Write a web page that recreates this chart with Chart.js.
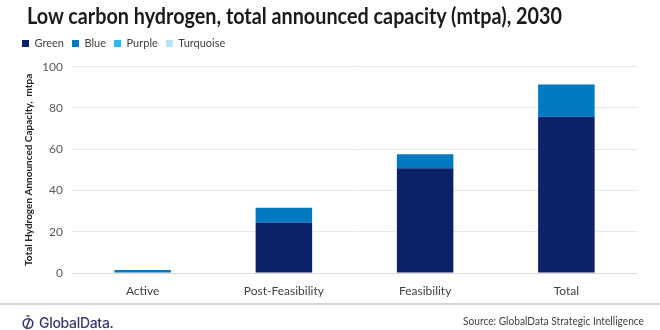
<!DOCTYPE html>
<html>
<head>
<meta charset="utf-8">
<script src="https://cdn.jsdelivr.net/npm/chart.js@4.4.1/dist/chart.umd.min.js"></script>
<style>
  html, body { margin: 0; padding: 0; background: #ffffff; }
  #wrap { position: relative; width: 660px; height: 330px; overflow: hidden; font-family: Lato, "Open Sans", sans-serif; }
  #c { position: absolute; left: 0; top: 0; }
  #title { position: absolute; left: 27px; top: 2px; font-size: 22px; font-weight: bold; color: #1b1b1b; white-space: nowrap; transform-origin: 0 0; }
  #sep { position: absolute; left: 0; top: 303px; width: 660px; height: 2px; background: #d4d4d4; }
  #logo { position: absolute; left: 22px; top: 312px; height: 20px; display: flex; align-items: center; color: #3a3870; }
  #logo span { font-family: Inter, Lato, sans-serif; font-weight: 500; font-size: 14px; margin-left: 5px; letter-spacing: -0.3px; }
  #source { position: absolute; left: 463px; top: 314px; font-size: 11.5px; color: #3f3f3f; white-space: nowrap; transform-origin: 0 0; }
</style>
</head>
<body>
<div id="wrap">
  <canvas id="c" width="660" height="330"></canvas>
  <div id="title">Low carbon hydrogen, total announced capacity (mtpa), 2030</div>
  <div id="sep"></div>
  <div id="logo">
    <svg width="12" height="15" viewBox="0 0 12 15">
      <circle cx="6" cy="8.5" r="4.8" fill="none" stroke="#3a3870" stroke-width="1.6"/>
      <line x1="4" y1="13.5" x2="8" y2="3.5" stroke="#3a3870" stroke-width="1.6"/>
      <line x1="4.5" y1="1" x2="7.5" y2="1" stroke="#3a3870" stroke-width="1.4"/>
    </svg>
    <span>GlobalData.</span>
  </div>
  <div id="source">Source: GlobalData Strategic Intelligence</div>
</div>
<script>
// ---- Data ----
const categories = ['Active', 'Post-Feasibility', 'Feasibility', 'Total'];
const seriesNames = ['Green', 'Blue', 'Purple', 'Turquoise'];
const greenValues = [0, 24.4, 50.8, 75.7];
const blueValues = [1.4, 7.2, 6.8, 15.7];
const purpleValues = [0, 0, 0, 0];
const turquoiseValues = [0, 0, 0, 0];
const yMin = 0;
const yMax = 100;
const yStep = 20;
const yAxisTitle = 'Total Hydrogen Announced Capacity,  mtpa';

const colors = ['#0b2169', '#0079c1', '#2cb8f4', '#b5e3fa'];
const valueSets = [greenValues, blueValues, purpleValues, turquoiseValues];

function fitWidth(id, target) {
  const el = document.getElementById(id);
  const w = el.getBoundingClientRect().width;
  if (w > 0) el.style.transform = 'scaleX(' + (target / w) + ')';
}
fitWidth('title', 535);
fitWidth('source', 181);

const legendHeightPlugin = {
  id: 'legendHeight',
  beforeInit(chart) {
    const origFit = chart.legend.fit;
    chart.legend.fit = function () {
      origFit.bind(chart.legend)();
      this.height = 36.7;
    };
  }
};

const fontFamily = 'Lato, "Open Sans", sans-serif';

new Chart(document.getElementById('c'), {
  type: 'bar',
  data: {
    labels: categories,
    datasets: seriesNames.map((name, i) => ({
      label: name,
      data: valueSets[i],
      backgroundColor: colors[i],
      borderWidth: 0,
      barPercentage: 0.4,
      categoryPercentage: 1.0
    }))
  },
  options: {
    responsive: false,
    animation: false,
    maintainAspectRatio: false,
    layout: { padding: { left: 14, right: 23, top: 30, bottom: 0 } },
    plugins: {
      title: { display: false },
      tooltip: { enabled: false },
      legend: {
        display: true,
        position: 'top',
        align: 'start',
        labels: {
          boxWidth: 7,
          boxHeight: 7,
          padding: 8,
          color: '#404040',
          font: { family: fontFamily, size: 11 }
        }
      }
    },
    scales: {
      x: {
        stacked: true,
        grid: { display: false, drawTicks: false },
        border: { display: false },
        ticks: {
          color: '#404040',
          padding: 11,
          font: { family: fontFamily, size: 12 }
        },
        afterFit(scale) { scale.height = 57; }
      },
      y: {
        stacked: true,
        min: yMin,
        max: yMax,
        grid: {
          drawTicks: false,
          color: (ctx) => (ctx.tick && ctx.tick.value === 0) ? '#d9d9d9' : '#e6e6ee',
          lineWidth: 1
        },
        border: { display: false },
        ticks: {
          stepSize: yStep,
          color: '#595959',
          padding: 9,
          font: { family: fontFamily, size: 12 }
        },
        title: {
          display: true,
          text: yAxisTitle,
          color: '#262626',
          padding: { top: 9, bottom: 0 },
          font: { family: fontFamily, size: 10, weight: 'bold' }
        },
        afterFit(scale) { scale.width = 58; }
      }
    }
  },
  plugins: [legendHeightPlugin]
});
</script>
</body>
</html>
